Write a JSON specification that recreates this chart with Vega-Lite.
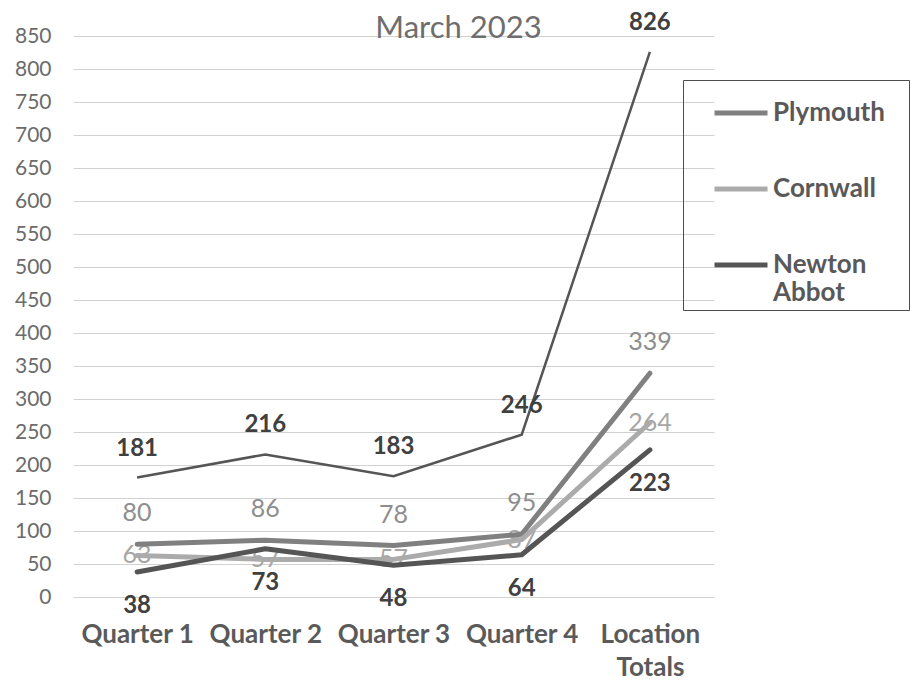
{
  "$schema": "https://vega.github.io/schema/vega-lite/v6.json",
  "width": 641,
  "height": 561,
  "autosize": {"type": "none"},
  "padding": {"left": 73, "top": 36, "right": 197, "bottom": 101},
  "background": "white",
  "config": {"font": "Lato", "view": {"stroke": null}},
  "title": {
    "text": "March 2023",
    "fontSize": 31,
    "font": "Lato",
    "fontWeight": "normal",
    "color": "#6e6e6e",
    "anchor": "middle",
    "dx": 65,
    "dy": 58,
    "offset": 0,
    "baseline": "alphabetic"
  },
  "data": {
    "values": [
      {"quarter": "Quarter 1", "series": "Plymouth", "value": 80},
      {"quarter": "Quarter 2", "series": "Plymouth", "value": 86},
      {"quarter": "Quarter 3", "series": "Plymouth", "value": 78},
      {"quarter": "Quarter 4", "series": "Plymouth", "value": 95},
      {"quarter": "Location Totals", "series": "Plymouth", "value": 339},
      {"quarter": "Quarter 1", "series": "Cornwall", "value": 63},
      {"quarter": "Quarter 2", "series": "Cornwall", "value": 57},
      {"quarter": "Quarter 3", "series": "Cornwall", "value": 57},
      {"quarter": "Quarter 4", "series": "Cornwall", "value": 87},
      {"quarter": "Location Totals", "series": "Cornwall", "value": 264},
      {"quarter": "Quarter 1", "series": "Newton Abbot", "value": 38},
      {"quarter": "Quarter 2", "series": "Newton Abbot", "value": 73},
      {"quarter": "Quarter 3", "series": "Newton Abbot", "value": 48},
      {"quarter": "Quarter 4", "series": "Newton Abbot", "value": 64},
      {"quarter": "Location Totals", "series": "Newton Abbot", "value": 223},
      {"quarter": "Quarter 1", "series": "Total", "value": 181},
      {"quarter": "Quarter 2", "series": "Total", "value": 216},
      {"quarter": "Quarter 3", "series": "Total", "value": 183},
      {"quarter": "Quarter 4", "series": "Total", "value": 246},
      {"quarter": "Location Totals", "series": "Total", "value": 826}
    ]
  },
  "encoding": {
    "x": {
      "field": "quarter",
      "type": "ordinal",
      "sort": ["Quarter 1", "Quarter 2", "Quarter 3", "Quarter 4", "Location Totals"],
      "scale": {"type": "point", "padding": 0.5},
      "axis": {
        "title": null,
        "domain": false,
        "ticks": false,
        "grid": false,
        "labelAngle": 0,
        "labelFontSize": 26,
        "labelFontWeight": "bold",
        "labelColor": "#5a5a5a",
        "labelPadding": 24,
        "labelBaseline": "top",
        "labelLineHeight": 33,
        "labelExpr": "datum.label == 'Location Totals' ? ['Location', 'Totals'] : datum.label"
      }
    },
    "y": {
      "field": "value",
      "type": "quantitative",
      "scale": {"domain": [0, 850], "nice": false},
      "axis": {
        "title": null,
        "domain": false,
        "ticks": false,
        "grid": true,
        "gridColor": "#d2d2d2",
        "gridWidth": 1.2,
        "labelFontSize": 21,
        "labelColor": "#6b6b6b",
        "labelPadding": 22,
        "values": [0, 50, 100, 150, 200, 250, 300, 350, 400, 450, 500, 550, 600, 650, 700, 750, 800, 850]
      }
    }
  },
  "layer": [
    {
      "transform": [{"filter": "datum.series == 'Cornwall'"}],
      "mark": {"type": "text", "fontSize": 25, "color": "#a6a6a6", "dy": 0},
      "encoding": {"text": {"field": "value", "type": "quantitative"}}
    },
    {
      "transform": [{"filter": "datum.series != 'Total'"}],
      "mark": {"type": "line", "strokeWidth": 5, "strokeCap": "round", "strokeJoin": "round"},
      "encoding": {
        "color": {
          "field": "series",
          "type": "nominal",
          "scale": {"domain": ["Plymouth", "Cornwall", "Newton Abbot"], "range": ["#808080", "#ababab", "#555555"]},
          "legend": {
            "title": " ",
            "titleOrient": "right",
            "titleFontSize": 10,
            "titlePadding": 20,
            "orient": "none",
            "legendX": 610,
            "legendY": 44,
            "symbolType": "stroke",
            "symbolSize": 2809,
            "symbolStrokeWidth": 5,
            "symbolOffset": 25,
            "labelFontSize": 26,
            "labelFontWeight": "bold",
            "labelColor": "#595959",
            "labelOffset": 3,
            "labelLimit": 400,
            "rowPadding": 34,
            "strokeColor": "#4d4d4d",
            "padding": 4,
            "labelExpr": "datum.label == 'Newton Abbot' ? ['Newton', 'Abbot'] : datum.label"
          }
        }
      }
    },
    {
      "transform": [{"filter": "datum.series == 'Total'"}],
      "mark": {"type": "line", "color": "#555555", "strokeWidth": 2.5},
      "encoding": {}
    },
    {
      "transform": [{"filter": "datum.series == 'Total'"}],
      "mark": {"type": "text", "fontSize": 24, "fontWeight": "bold", "color": "#404040", "dy": -29},
      "encoding": {"text": {"field": "value", "type": "quantitative"}}
    },
    {
      "transform": [{"filter": "datum.series == 'Plymouth'"}],
      "mark": {"type": "text", "fontSize": 25, "color": "#8e8e8e", "dy": -31},
      "encoding": {"text": {"field": "value", "type": "quantitative"}}
    },
    {
      "transform": [{"filter": "datum.series == 'Newton Abbot'"}],
      "mark": {"type": "text", "fontSize": 24, "fontWeight": "bold", "color": "#404040", "dy": 34},
      "encoding": {"text": {"field": "value", "type": "quantitative"}}
    }
  ]
}
